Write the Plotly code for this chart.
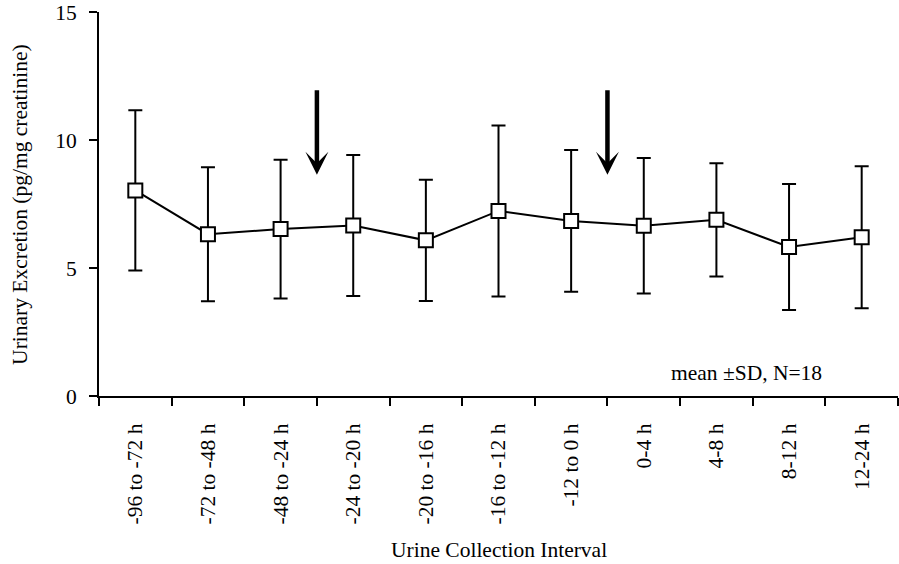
import plotly.graph_objects as go

categories = ["-96 to -72 h", "-72 to -48 h", "-48 to -24 h", "-24 to -20 h",
              "-20 to -16 h", "-16 to -12 h", "-12 to 0 h", "0-4 h", "4-8 h",
              "8-12 h", "12-24 h"]
means = [8.03, 6.32, 6.52, 6.66, 6.08, 7.23, 6.84, 6.65, 6.88, 5.82, 6.20]
sds = [3.13, 2.62, 2.71, 2.75, 2.37, 3.34, 2.77, 2.65, 2.21, 2.46, 2.77]

arrow_x = [2.5, 6.5]
arrow_top = 12.0
arrow_tip = 8.64

y_ticks = [0, 5, 10, 15]

FONT = "Liberation Serif"
FS = 21.5

fig = go.Figure()
fig.add_trace(go.Scatter(
    x=categories, y=means, mode="lines+markers",
    line=dict(color="black", width=2),
    marker=dict(symbol="square", size=14, color="white",
                line=dict(color="black", width=2)),
    error_y=dict(type="data", array=sds, visible=True,
                 color="black", thickness=2, width=7),
    showlegend=False,
))

annotations = []
for ax_ in arrow_x:
    annotations.append(dict(
        x=ax_, y=arrow_tip, ax=ax_, ay=arrow_top,
        xref="x", yref="y", axref="x", ayref="y",
        showarrow=True, arrowhead=3, arrowsize=0.85, arrowwidth=4.5,
        arrowcolor="black", text="",
    ))
annotations.append(dict(
    x=0.81, y=0.06, xref="paper", yref="paper", showarrow=False,
    text="mean ±SD, N=18", font=dict(family=FONT, size=FS, color="black"),
    xanchor="center", yanchor="middle",
))
annotations.append(dict(
    x=0.5, y=-0.401, xref="paper", yref="paper", showarrow=False,
    text="Urine Collection Interval", font=dict(family=FONT, size=FS, color="black"),
    xanchor="center", yanchor="middle",
))
annotations.append(dict(
    x=-0.099, y=0.5, xref="paper", yref="paper", showarrow=False,
    text="Urinary Excretion (pg/mg creatinine)", textangle=-90,
    font=dict(family=FONT, size=FS, color="black"),
    xanchor="center", yanchor="middle",
))

fig.update_layout(
    width=899, height=564,
    margin=dict(l=99, r=1, t=12, b=168),
    paper_bgcolor="white", plot_bgcolor="white",
    font=dict(family=FONT, size=FS, color="black"),
    annotations=annotations,
)
fig.update_xaxes(
    type="category", range=[-0.5, 10.5],
    showline=True, linecolor="black", linewidth=2,
    ticks="outside", ticklen=8, tickwidth=2, tickcolor="black",
    tickson="boundaries", tickangle=-90, ticklabelstandoff=17,
    showgrid=False, zeroline=False,
    tickfont=dict(family=FONT, size=FS, color="black"),
)
fig.update_yaxes(
    range=[0, 15], tickvals=y_ticks,
    showline=True, linecolor="black", linewidth=2,
    ticks="outside", ticklen=8, tickwidth=2, tickcolor="black",
    ticklabelstandoff=8, ticklabeloverflow="allow",
    showgrid=False, zeroline=False,
    tickfont=dict(family=FONT, size=FS, color="black"),
)

fig.write_html("out.html", config={"displayModeBar": False},
               post_script="document.body.style.margin='0';document.body.style.padding='0';")
